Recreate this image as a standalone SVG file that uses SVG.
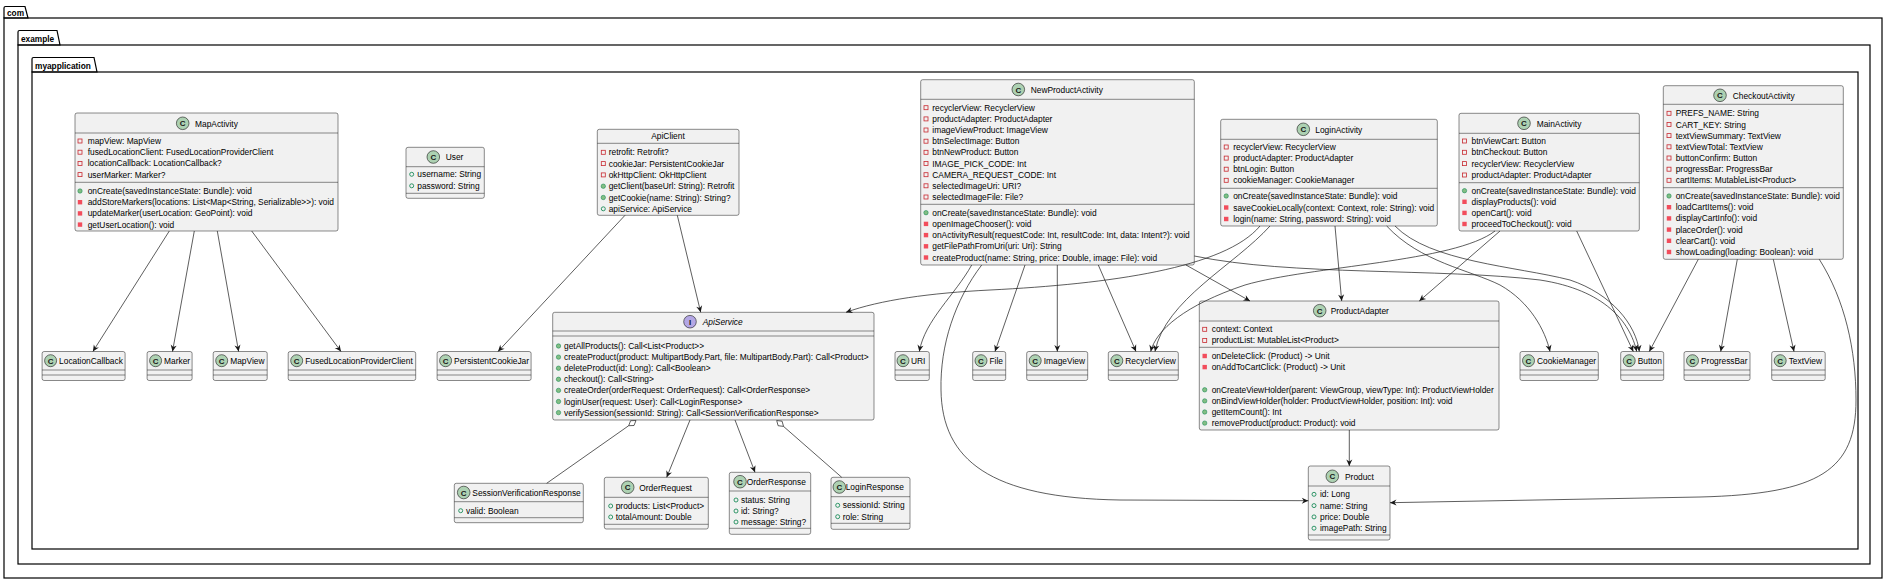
<svg xmlns="http://www.w3.org/2000/svg" xmlns:xlink="http://www.w3.org/1999/xlink" width="1889" height="582" viewBox="0 0 1889 582">
<style>
.pk{fill:none;stroke:#000;stroke-width:1.2}
.pt{font:bold 8.3px "Liberation Sans",Arial,sans-serif;fill:#000}
.b{fill:#F1F1F1;stroke:#181818;stroke-width:0.5}
.s{fill:none;stroke:#181818;stroke-width:0.5}
.t{font:8.4px "Liberation Sans",Arial,sans-serif;fill:#000}
.it{font-style:italic}
.cc{fill:#ADD1B2;stroke:#181818;stroke-width:0.6}
.ci{fill:#B4A7E5;stroke:#181818;stroke-width:0.6}
.cl{font:bold 8px "Liberation Sans",Arial,sans-serif;fill:#181818;text-anchor:middle}
.e{fill:none;stroke:#181818;stroke-width:0.7}
.ea{marker-end:url(#a)}
.dm{fill:#fff;stroke:#181818;stroke-width:0.7}
</style>
<defs>
<marker id="a" viewBox="-8 -4 9 8" refX="0" refY="0" markerWidth="9" markerHeight="8" markerUnits="userSpaceOnUse" orient="auto"><path d="M0,0 L-6.5,-3 L-4.5,0 L-6.5,3 Z" fill="#181818"/></marker>
<rect id="pf" x="-2" y="-2" width="4" height="4" fill="none" stroke="#C82930" stroke-width="0.8"/>
<rect id="pm" x="-2.2" y="-2.2" width="4.4" height="4.4" fill="#F24D5C"/>
<circle id="uf" r="2" fill="none" stroke="#038048" stroke-width="0.8"/>
<circle id="um" r="2.2" fill="#84BE84" stroke="#038048" stroke-width="0.5"/>
</defs>
<rect width="1889" height="582" fill="#fff"/>

<g id="pkg-com">
<path class="pk" d="M4,18 L4,8 Q4,6.5 5.5,6.5 L25,6.5 L28,18 Z"/>
<rect class="pk" x="4" y="18" width="1878" height="560"/>
<text class="pt" x="7" y="15.5">com</text>
</g>
<g id="pkg-example">
<path class="pk" d="M18,45 L18,32 Q18,30.5 19.5,30.5 L57,30.5 L60,45 Z"/>
<rect class="pk" x="18" y="45" width="1852" height="519"/>
<text class="pt" x="21" y="41.5">example</text>
</g>
<g id="pkg-myapplication">
<path class="pk" d="M32,72 L32,59 Q32,57.5 33.5,57.5 L94,57.5 L97,72 Z"/>
<rect class="pk" x="32" y="72" width="1826" height="477"/>
<text class="pt" x="35" y="68.5">myapplication</text>
</g>

<g id="MapActivity">
<rect class="b" x="75" y="113" width="263" height="118" rx="2"/>
<path class="s" d="M75,133H338M75,182.3H338"/>
<circle class="cc" cx="182.7" cy="123.3" r="6.3"/><text class="cl" x="182.7" y="126.3">C</text>
<text class="t" x="195" y="126.6">MapActivity</text>
<use href="#pf" x="80" y="141"/><text class="t" x="87.7" y="144">mapView: MapView</text>
<use href="#pf" x="80" y="152.2"/><text class="t" x="87.7" y="155.2">fusedLocationClient: FusedLocationProviderClient</text>
<use href="#pf" x="80" y="163.4"/><text class="t" x="87.7" y="166.4">locationCallback: LocationCallback?</text>
<use href="#pf" x="80" y="174.6"/><text class="t" x="87.7" y="177.6">userMarker: Marker?</text>
<use href="#um" x="80" y="191"/><text class="t" x="87.7" y="194">onCreate(savedInstanceState: Bundle): void</text>
<use href="#pm" x="80" y="202.2"/><text class="t" x="87.7" y="205.2">addStoreMarkers(locations: List&lt;Map&lt;String, Serializable&gt;&gt;): void</text>
<use href="#pm" x="80" y="213.4"/><text class="t" x="87.7" y="216.4">updateMarker(userLocation: GeoPoint): void</text>
<use href="#pm" x="80" y="224.6"/><text class="t" x="87.7" y="227.6">getUserLocation(): void</text>
</g>

<g id="User">
<rect class="b" x="406" y="147.3" width="78.3" height="51" rx="2"/>
<path class="s" d="M406,166.7H484.3M406,193.3H484.3"/>
<circle class="cc" cx="433.3" cy="157" r="6.3"/><text class="cl" x="433.3" y="160">C</text>
<text class="t" x="445.7" y="160.3">User</text>
<use href="#uf" x="411.7" y="174.3"/><text class="t" x="417.3" y="177.3">username: String</text>
<use href="#uf" x="411.7" y="185.8"/><text class="t" x="417.3" y="188.8">password: String</text>
</g>

<g id="ApiClient">
<rect class="b" x="597.3" y="129.3" width="141.7" height="86" rx="2"/>
<path class="s" d="M597.3,143.3H739"/>
<text class="t" x="668" y="139.3" text-anchor="middle">ApiClient</text>
<use href="#pf" x="603.3" y="152.3"/><text class="t" x="608.7" y="155.3">retrofit: Retrofit?</text>
<use href="#pf" x="603.3" y="163.6"/><text class="t" x="608.7" y="166.6">cookieJar: PersistentCookieJar</text>
<use href="#pf" x="603.3" y="174.9"/><text class="t" x="608.7" y="177.9">okHttpClient: OkHttpClient</text>
<use href="#um" x="603.3" y="186.2"/><text class="t" x="608.7" y="189.2">getClient(baseUrl: String): Retrofit</text>
<use href="#um" x="603.3" y="197.5"/><text class="t" x="608.7" y="200.5">getCookie(name: String): String?</text>
<use href="#uf" x="603.3" y="208.8"/><text class="t" x="608.7" y="211.8">apiService: ApiService</text>
</g>

<g id="NewProductActivity">
<rect class="b" x="920.7" y="79.7" width="273.6" height="185.3" rx="2"/>
<path class="s" d="M920.7,99.3H1194.3M920.7,204.3H1194.3"/>
<circle class="cc" cx="1018.3" cy="89.5" r="6.3"/><text class="cl" x="1018.3" y="92.5">C</text>
<text class="t" x="1030.7" y="92.8">NewProductActivity</text>
<use href="#pf" x="926" y="107.7"/><text class="t" x="932.3" y="110.7">recyclerView: RecyclerView</text>
<use href="#pf" x="926" y="118.9"/><text class="t" x="932.3" y="121.9">productAdapter: ProductAdapter</text>
<use href="#pf" x="926" y="130"/><text class="t" x="932.3" y="133">imageViewProduct: ImageView</text>
<use href="#pf" x="926" y="141.2"/><text class="t" x="932.3" y="144.2">btnSelectImage: Button</text>
<use href="#pf" x="926" y="152.3"/><text class="t" x="932.3" y="155.3">btnNewProduct: Button</text>
<use href="#pf" x="926" y="163.5"/><text class="t" x="932.3" y="166.5">IMAGE_PICK_CODE: Int</text>
<use href="#pf" x="926" y="174.7"/><text class="t" x="932.3" y="177.7">CAMERA_REQUEST_CODE: Int</text>
<use href="#pf" x="926" y="185.8"/><text class="t" x="932.3" y="188.8">selectedImageUri: URI?</text>
<use href="#pf" x="926" y="197"/><text class="t" x="932.3" y="200">selectedImageFile: File?</text>
<use href="#um" x="926" y="212.7"/><text class="t" x="932.3" y="215.7">onCreate(savedInstanceState: Bundle): void</text>
<use href="#pm" x="926" y="223.9"/><text class="t" x="932.3" y="226.9">openImageChooser(): void</text>
<use href="#pm" x="926" y="235.1"/><text class="t" x="932.3" y="238.1">onActivityResult(requestCode: Int, resultCode: Int, data: Intent?): void</text>
<use href="#pm" x="926" y="246.3"/><text class="t" x="932.3" y="249.3">getFilePathFromUri(uri: Uri): String</text>
<use href="#pm" x="926" y="257.5"/><text class="t" x="932.3" y="260.5">createProduct(name: String, price: Double, image: File): void</text>
</g>

<g id="LoginActivity">
<rect class="b" x="1220.7" y="119.3" width="216.6" height="106.7" rx="2"/>
<path class="s" d="M1220.7,139.3H1437.3M1220.7,188.3H1437.3"/>
<circle class="cc" cx="1303.3" cy="129.3" r="6.3"/><text class="cl" x="1303.3" y="132.3">C</text>
<text class="t" x="1315.3" y="132.6">LoginActivity</text>
<use href="#pf" x="1226.2" y="147"/><text class="t" x="1233.2" y="150">recyclerView: RecyclerView</text>
<use href="#pf" x="1226.2" y="158.1"/><text class="t" x="1233.2" y="161.1">productAdapter: ProductAdapter</text>
<use href="#pf" x="1226.2" y="169.2"/><text class="t" x="1233.2" y="172.2">btnLogin: Button</text>
<use href="#pf" x="1226.2" y="180.3"/><text class="t" x="1233.2" y="183.3">cookieManager: CookieManager</text>
<use href="#um" x="1226.2" y="196"/><text class="t" x="1233.2" y="199">onCreate(savedInstanceState: Bundle): void</text>
<use href="#pm" x="1226.2" y="207.5"/><text class="t" x="1233.2" y="210.5">saveCookieLocally(context: Context, role: String): void</text>
<use href="#pm" x="1226.2" y="219"/><text class="t" x="1233.2" y="222">login(name: String, password: String): void</text>
</g>

<g id="MainActivity">
<rect class="b" x="1459" y="113.3" width="180.3" height="117.7" rx="2"/>
<path class="s" d="M1459,133.3H1639.3M1459,182.7H1639.3"/>
<circle class="cc" cx="1524" cy="123.3" r="6.3"/><text class="cl" x="1524" y="126.3">C</text>
<text class="t" x="1536.7" y="126.6">MainActivity</text>
<use href="#pf" x="1464.5" y="141"/><text class="t" x="1471.5" y="144">btnViewCart: Button</text>
<use href="#pf" x="1464.5" y="152.3"/><text class="t" x="1471.5" y="155.3">btnCheckout: Button</text>
<use href="#pf" x="1464.5" y="163.6"/><text class="t" x="1471.5" y="166.6">recyclerView: RecyclerView</text>
<use href="#pf" x="1464.5" y="175"/><text class="t" x="1471.5" y="178">productAdapter: ProductAdapter</text>
<use href="#um" x="1464.5" y="190.7"/><text class="t" x="1471.5" y="193.7">onCreate(savedInstanceState: Bundle): void</text>
<use href="#pm" x="1464.5" y="201.8"/><text class="t" x="1471.5" y="204.8">displayProducts(): void</text>
<use href="#pm" x="1464.5" y="212.9"/><text class="t" x="1471.5" y="215.9">openCart(): void</text>
<use href="#pm" x="1464.5" y="224"/><text class="t" x="1471.5" y="227">proceedToCheckout(): void</text>
</g>

<g id="CheckoutActivity">
<rect class="b" x="1663.3" y="85.7" width="180" height="173.6" rx="2"/>
<path class="s" d="M1663.3,104.3H1843.3M1663.3,187.7H1843.3"/>
<circle class="cc" cx="1720" cy="95.3" r="6.3"/><text class="cl" x="1720" y="98.3">C</text>
<text class="t" x="1732.7" y="98.6">CheckoutActivity</text>
<use href="#pf" x="1669" y="113.3"/><text class="t" x="1675.7" y="116.3">PREFS_NAME: String</text>
<use href="#pf" x="1669" y="124.5"/><text class="t" x="1675.7" y="127.5">CART_KEY: String</text>
<use href="#pf" x="1669" y="135.6"/><text class="t" x="1675.7" y="138.6">textViewSummary: TextView</text>
<use href="#pf" x="1669" y="146.8"/><text class="t" x="1675.7" y="149.8">textViewTotal: TextView</text>
<use href="#pf" x="1669" y="158"/><text class="t" x="1675.7" y="161">buttonConfirm: Button</text>
<use href="#pf" x="1669" y="169.2"/><text class="t" x="1675.7" y="172.2">progressBar: ProgressBar</text>
<use href="#pf" x="1669" y="180.3"/><text class="t" x="1675.7" y="183.3">cartItems: MutableList&lt;Product&gt;</text>
<use href="#um" x="1669" y="196"/><text class="t" x="1675.7" y="199">onCreate(savedInstanceState: Bundle): void</text>
<use href="#pm" x="1669" y="207.2"/><text class="t" x="1675.7" y="210.2">loadCartItems(): void</text>
<use href="#pm" x="1669" y="218.4"/><text class="t" x="1675.7" y="221.4">displayCartInfo(): void</text>
<use href="#pm" x="1669" y="229.6"/><text class="t" x="1675.7" y="232.6">placeOrder(): void</text>
<use href="#pm" x="1669" y="240.8"/><text class="t" x="1675.7" y="243.8">clearCart(): void</text>
<use href="#pm" x="1669" y="252"/><text class="t" x="1675.7" y="255">showLoading(loading: Boolean): void</text>
</g>

<g id="ApiService">
<rect class="b" x="552.7" y="312.3" width="321.3" height="107.7" rx="2"/>
<path class="s" d="M552.7,331H874M552.7,336H874"/>
<circle class="ci" cx="690" cy="321.7" r="6.3"/><text class="cl" x="690" y="324.7">I</text>
<text class="t it" x="702.7" y="325">ApiService</text>
<use href="#um" x="558.5" y="346"/><text class="t" x="564" y="349">getAllProducts(): Call&lt;List&lt;Product&gt;&gt;</text>
<use href="#um" x="558.5" y="357.1"/><text class="t" x="564" y="360.1">createProduct(product: MultipartBody.Part, file: MultipartBody.Part): Call&lt;Product&gt;</text>
<use href="#um" x="558.5" y="368.2"/><text class="t" x="564" y="371.2">deleteProduct(id: Long): Call&lt;Boolean&gt;</text>
<use href="#um" x="558.5" y="379.3"/><text class="t" x="564" y="382.3">checkout(): Call&lt;String&gt;</text>
<use href="#um" x="558.5" y="390.4"/><text class="t" x="564" y="393.4">createOrder(orderRequest: OrderRequest): Call&lt;OrderResponse&gt;</text>
<use href="#um" x="558.5" y="401.5"/><text class="t" x="564" y="404.5">loginUser(request: User): Call&lt;LoginResponse&gt;</text>
<use href="#um" x="558.5" y="412.6"/><text class="t" x="564" y="415.6">verifySession(sessionId: String): Call&lt;SessionVerificationResponse&gt;</text>
</g>

<g id="ProductAdapter">
<rect class="b" x="1199.3" y="301" width="299.7" height="129" rx="2"/>
<path class="s" d="M1199.3,321H1499M1199.3,347.3H1499"/>
<circle class="cc" cx="1319.7" cy="310.7" r="6.3"/><text class="cl" x="1319.7" y="313.7">C</text>
<text class="t" x="1330.7" y="314">ProductAdapter</text>
<use href="#pf" x="1204.7" y="329.3"/><text class="t" x="1211.7" y="332.3">context: Context</text>
<use href="#pf" x="1204.7" y="340.4"/><text class="t" x="1211.7" y="343.4">productList: MutableList&lt;Product&gt;</text>
<use href="#pm" x="1204.7" y="356"/><text class="t" x="1211.7" y="359">onDeleteClick: (Product) -&gt; Unit</text>
<use href="#pm" x="1204.7" y="367.1"/><text class="t" x="1211.7" y="370.1">onAddToCartClick: (Product) -&gt; Unit</text>
<use href="#um" x="1204.7" y="389.8"/><text class="t" x="1211.7" y="392.8">onCreateViewHolder(parent: ViewGroup, viewType: Int): ProductViewHolder</text>
<use href="#um" x="1204.7" y="400.9"/><text class="t" x="1211.7" y="403.9">onBindViewHolder(holder: ProductViewHolder, position: Int): void</text>
<use href="#um" x="1204.7" y="412"/><text class="t" x="1211.7" y="415">getItemCount(): Int</text>
<use href="#um" x="1204.7" y="423.1"/><text class="t" x="1211.7" y="426.1">removeProduct(product: Product): void</text>
</g>

<g id="Product">
<rect class="b" x="1308.3" y="466" width="81.7" height="74" rx="2"/>
<path class="s" d="M1308.3,486H1390M1308.3,535H1390"/>
<circle class="cc" cx="1332.3" cy="476.3" r="6.3"/><text class="cl" x="1332.3" y="479.3">C</text>
<text class="t" x="1345" y="479.6">Product</text>
<use href="#uf" x="1314" y="494.3"/><text class="t" x="1320" y="497.3">id: Long</text>
<use href="#uf" x="1314" y="505.6"/><text class="t" x="1320" y="508.6">name: String</text>
<use href="#uf" x="1314" y="516.9"/><text class="t" x="1320" y="519.9">price: Double</text>
<use href="#uf" x="1314" y="528.2"/><text class="t" x="1320" y="531.2">imagePath: String</text>
</g>

<g id="SessionVerificationResponse">
<rect class="b" x="454.3" y="483.3" width="129" height="39.4" rx="2"/>
<path class="s" d="M454.3,501.7H583.3M454.3,517.7H583.3"/>
<circle class="cc" cx="463.7" cy="492.5" r="6.3"/><text class="cl" x="463.7" y="495.5">C</text>
<text class="t" x="472.3" y="495.8">SessionVerificationResponse</text>
<use href="#uf" x="460.7" y="510.7"/><text class="t" x="466" y="513.7">valid: Boolean</text>
</g>

<g id="OrderRequest">
<rect class="b" x="604.3" y="477.3" width="104" height="51.7" rx="2"/>
<path class="s" d="M604.3,497.3H708.3M604.3,524.3H708.3"/>
<circle class="cc" cx="627.7" cy="487.3" r="6.3"/><text class="cl" x="627.7" y="490.3">C</text>
<text class="t" x="639.3" y="490.6">OrderRequest</text>
<use href="#uf" x="610.7" y="506"/><text class="t" x="615.7" y="509">products: List&lt;Product&gt;</text>
<use href="#uf" x="610.7" y="517"/><text class="t" x="615.7" y="520">totalAmount: Double</text>
</g>

<g id="OrderResponse">
<rect class="b" x="729.3" y="472.3" width="81.4" height="62" rx="2"/>
<path class="s" d="M729.3,491H810.7M729.3,528.3H810.7"/>
<circle class="cc" cx="740" cy="481.7" r="6.3"/><text class="cl" x="740" y="484.7">C</text>
<text class="t" x="746.7" y="485">OrderResponse</text>
<use href="#uf" x="736" y="500"/><text class="t" x="741" y="503">status: String</text>
<use href="#uf" x="736" y="511"/><text class="t" x="741" y="514">id: String?</text>
<use href="#uf" x="736" y="522"/><text class="t" x="741" y="525">message: String?</text>
</g>

<g id="LoginResponse">
<rect class="b" x="831" y="477.3" width="79" height="52" rx="2"/>
<path class="s" d="M831,496.7H910M831,523.3H910"/>
<circle class="cc" cx="839.3" cy="487" r="6.3"/><text class="cl" x="839.3" y="490">C</text>
<text class="t" x="845.7" y="490.3">LoginResponse</text>
<use href="#uf" x="837.7" y="505.3"/><text class="t" x="842.7" y="508.3">sessionId: String</text>
<use href="#uf" x="837.7" y="516.7"/><text class="t" x="842.7" y="519.7">role: String</text>
</g>

<g id="LocationCallback">
<rect class="b" x="42.1" y="351.5" width="83" height="29" rx="2"/>
<path class="s" d="M42.1,370H125.1M42.1,375H125.1"/>
<circle class="cc" cx="50.6" cy="360.7" r="6"/><text class="cl" x="50.6" y="363.7">C</text>
<text class="t" x="59.1" y="364">LocationCallback</text>
</g>
<g id="Marker">
<rect class="b" x="147.1" y="351.5" width="45" height="29" rx="2"/>
<path class="s" d="M147.1,370H192.1M147.1,375H192.1"/>
<circle class="cc" cx="155.6" cy="360.7" r="6"/><text class="cl" x="155.6" y="363.7">C</text>
<text class="t" x="164.1" y="364">Marker</text>
</g>
<g id="MapView">
<rect class="b" x="213.2" y="351.5" width="54" height="29" rx="2"/>
<path class="s" d="M213.2,370H267.2M213.2,375H267.2"/>
<circle class="cc" cx="221.7" cy="360.7" r="6"/><text class="cl" x="221.7" y="363.7">C</text>
<text class="t" x="230.2" y="364">MapView</text>
</g>
<g id="FusedLocationProviderClient">
<rect class="b" x="288.2" y="351.5" width="127.5" height="29" rx="2"/>
<path class="s" d="M288.2,370H415.7M288.2,375H415.7"/>
<circle class="cc" cx="296.7" cy="360.7" r="6"/><text class="cl" x="296.7" y="363.7">C</text>
<text class="t" x="305.2" y="364">FusedLocationProviderClient</text>
</g>
<g id="PersistentCookieJar">
<rect class="b" x="437.1" y="351.5" width="94" height="29" rx="2"/>
<path class="s" d="M437.1,370H531.1M437.1,375H531.1"/>
<circle class="cc" cx="445.6" cy="360.7" r="6"/><text class="cl" x="445.6" y="363.7">C</text>
<text class="t" x="454.1" y="364">PersistentCookieJar</text>
</g>
<g id="URI">
<rect class="b" x="895" y="351.5" width="34.3" height="29" rx="2"/>
<path class="s" d="M895,370H929.3M895,375H929.3"/>
<circle class="cc" cx="903" cy="360.7" r="6"/><text class="cl" x="903" y="363.7">C</text>
<text class="t" x="911" y="364">URI</text>
</g>
<g id="File">
<rect class="b" x="972.7" y="351.5" width="33" height="29" rx="2"/>
<path class="s" d="M972.7,370H1005.7M972.7,375H1005.7"/>
<circle class="cc" cx="981" cy="360.7" r="6"/><text class="cl" x="981" y="363.7">C</text>
<text class="t" x="989.5" y="364">File</text>
</g>
<g id="ImageView">
<rect class="b" x="1026.7" y="351.5" width="61" height="29" rx="2"/>
<path class="s" d="M1026.7,370H1087.7M1026.7,375H1087.7"/>
<circle class="cc" cx="1035.2" cy="360.7" r="6"/><text class="cl" x="1035.2" y="363.7">C</text>
<text class="t" x="1043.7" y="364">ImageView</text>
</g>
<g id="RecyclerView">
<rect class="b" x="1108.3" y="351.5" width="70" height="29" rx="2"/>
<path class="s" d="M1108.3,370H1178.3M1108.3,375H1178.3"/>
<circle class="cc" cx="1116.8" cy="360.7" r="6"/><text class="cl" x="1116.8" y="363.7">C</text>
<text class="t" x="1125.3" y="364">RecyclerView</text>
</g>
<g id="CookieManager">
<rect class="b" x="1520" y="351.5" width="78.3" height="29" rx="2"/>
<path class="s" d="M1520,370H1598.3M1520,375H1598.3"/>
<circle class="cc" cx="1528.5" cy="360.7" r="6"/><text class="cl" x="1528.5" y="363.7">C</text>
<text class="t" x="1537" y="364">CookieManager</text>
</g>
<g id="Button">
<rect class="b" x="1620.7" y="351.5" width="43" height="29" rx="2"/>
<path class="s" d="M1620.7,370H1663.7M1620.7,375H1663.7"/>
<circle class="cc" cx="1629.2" cy="360.7" r="6"/><text class="cl" x="1629.2" y="363.7">C</text>
<text class="t" x="1637.7" y="364">Button</text>
</g>
<g id="ProgressBar">
<rect class="b" x="1684" y="351.5" width="66" height="29" rx="2"/>
<path class="s" d="M1684,370H1750M1684,375H1750"/>
<circle class="cc" cx="1692.5" cy="360.7" r="6"/><text class="cl" x="1692.5" y="363.7">C</text>
<text class="t" x="1701" y="364">ProgressBar</text>
</g>
<g id="TextView">
<rect class="b" x="1771.7" y="351.5" width="53.5" height="29" rx="2"/>
<path class="s" d="M1771.7,370H1825.2M1771.7,375H1825.2"/>
<circle class="cc" cx="1780.2" cy="360.7" r="6"/><text class="cl" x="1780.2" y="363.7">C</text>
<text class="t" x="1788.7" y="364">TextView</text>
</g>

<g id="connectors">
<path class="e ea" d="M169.3,231 L92.9,351.5"/>
<path class="e ea" d="M194.3,231 L172.5,351.5"/>
<path class="e ea" d="M217.3,231 L238.6,351.5"/>
<path class="e ea" d="M251.7,231 L341,351.5"/>
<path class="e ea" d="M625,215.3 L498,351.5"/>
<path class="e ea" d="M677.3,215.3 L700.7,312.3"/>
<path class="e ea" d="M1260,226 C1225,268 1110,284 990,290 C930,293 880,300 846,312.3"/>
<path class="e ea" d="M1270,226 C1235,265 1165,300 1155,351.5"/>
<path class="e ea" d="M1495,231 C1455,262 1310,266 1245,285 C1185,305 1156,330 1150.7,351.5"/>
<path class="e ea" d="M1500,231 L1419.3,301"/>
<path class="e ea" d="M1335,226 L1341.7,301"/>
<path class="e ea" d="M1186,265 L1250,301"/>
<path class="e ea" d="M1194.3,256 C1290,276 1440,268 1540,280 C1605,290 1630,322 1636.7,351.5"/>
<path class="e ea" d="M1395,226 C1430,262 1515,266 1570,280 C1612,294 1636,325 1639.3,351.5"/>
<path class="e ea" d="M1386.7,226 C1420,262 1470,270 1500,285 C1530,302 1545,330 1550,351.5"/>
<path class="e ea" d="M1576.7,231 L1633.3,351.5"/>
<path class="e ea" d="M971.7,265 C955,295 925,320 919.3,351.5"/>
<path class="e ea" d="M981.7,265 C955,300 940,345 941,390 C942,460 990,498 1120,500 L1308.3,500.7"/>
<path class="e ea" d="M1025,265 L995,351.5"/>
<path class="e ea" d="M1057.3,265 L1057.3,351.5"/>
<path class="e ea" d="M1098.3,265 L1136,351.5"/>
<path class="e ea" d="M1698.3,259.3 L1649.3,351.5"/>
<path class="e ea" d="M1737.3,259.3 L1720.7,351.5"/>
<path class="e ea" d="M1773.3,259.3 L1794,351.5"/>
<path class="e ea" d="M1819.3,259.3 C1845,300 1856,350 1856,400 C1856,470 1820,494 1700,497 L1390,502.7"/>
<path class="e ea" d="M1349.3,430 L1349.3,466"/>
<path class="dm" d="M636,420.5 L634,425.5 L628.7,425.7 L630.6,420.7 Z"/>
<path class="e" d="M628.7,425.7 L546.7,483.3"/>
<path class="e ea" d="M690,420 L666.7,477.3"/>
<path class="e ea" d="M735,420 L755,472.3"/>
<path class="dm" d="M776.7,420.5 L782.1,421.2 L783.5,426.4 L778.1,425.7 Z"/>
<path class="e" d="M783.5,426.4 L841.7,477.3"/>
</g>
</svg>
